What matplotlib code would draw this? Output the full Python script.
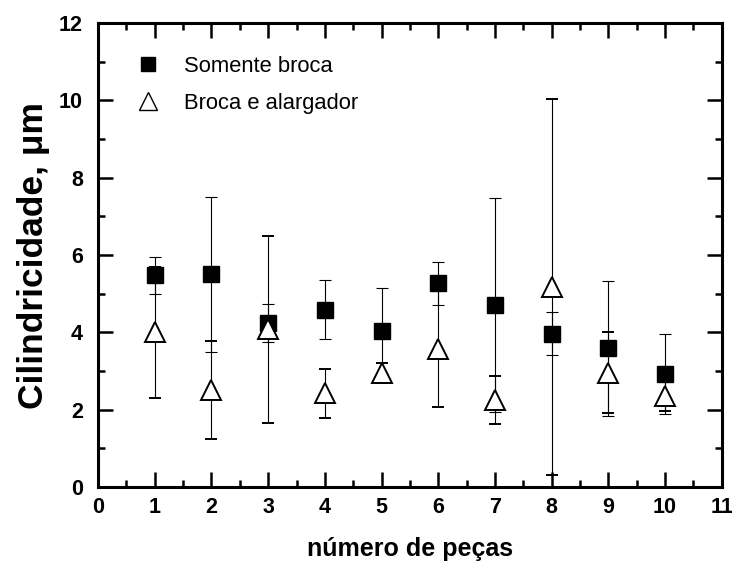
import matplotlib.pyplot as plt
import numpy as np
from matplotlib.ticker import MultipleLocator
from matplotlib.lines import Line2D

plt.rcParams['font.family'] = ['Liberation Sans', 'DejaVu Sans']

pecas = [1, 2, 3, 4, 5, 6, 7, 8, 9, 10]
somente_broca = [5.48, 5.50, 4.25, 4.59, 4.04, 5.27, 4.71, 3.97, 3.59, 2.92]
somente_broca_err = [0.48, 2.0, 0.49, 0.76, 1.12, 0.56, 2.77, 0.56, 1.75, 1.03]
broca_alargador = [4.0, 2.52, 4.08, 2.42, 2.95, 3.57, 2.25, 5.18, 2.96, 2.36]
broca_alargador_err = [1.7, 1.27, 2.42, 0.63, 0.25, 1.5, 0.62, 4.87, 1.04, 0.4]

fig = plt.figure(figsize=(7.32, 5.65), dpi=100)
ax = fig.add_axes([0.134, 0.138, 0.852, 0.821])

ax.errorbar(pecas, somente_broca, yerr=somente_broca_err, fmt='s', color='black',
            markersize=11, ecolor='black', elinewidth=0.8, capsize=4, capthick=0.8,
            zorder=3)
ax.errorbar(pecas, broca_alargador, yerr=broca_alargador_err, fmt='^', color='black',
            markerfacecolor='white', markeredgewidth=1.4, markersize=14,
            ecolor='black', elinewidth=0.8, capsize=4, capthick=0.8,
            zorder=4)

ax.set_xlim(0, 11)
ax.set_ylim(0, 12)
ax.xaxis.set_major_locator(MultipleLocator(1))
ax.xaxis.set_minor_locator(MultipleLocator(0.5))
ax.yaxis.set_major_locator(MultipleLocator(2))
ax.yaxis.set_minor_locator(MultipleLocator(1))
ax.tick_params(which='both', direction='in', top=True, right=True, width=1.8)
ax.tick_params(which='major', length=10.5)
ax.tick_params(which='minor', length=5)
ax.tick_params(axis='x', which='major', pad=7)
ax.tick_params(axis='y', which='major', pad=11)
ax.set_xticks(range(12))
ax.set_xticklabels([str(i) for i in range(12)], fontsize=15.5, fontweight='bold')
ax.set_yticks(range(0, 13, 2))
ax.set_yticklabels([str(i) for i in range(0, 13, 2)], fontsize=15.5, fontweight='bold')
for s in ax.spines.values():
    s.set_linewidth(2.2)

ax.set_xlabel('número de peças', fontsize=18, fontweight='bold', labelpad=14)
ax.set_ylabel('Cilindricidade, μm', fontsize=25.5, fontweight='bold', labelpad=6)

handles = [
    Line2D([], [], linestyle='none', marker='s', color='black', markersize=10),
    Line2D([], [], linestyle='none', marker='^', color='black', markerfacecolor='white',
           markeredgewidth=1.0, markersize=12.5),
]
ax.legend(handles, ['Somente broca', 'Broca e alargador'], loc='upper left',
          frameon=False, fontsize=15.8, handletextpad=0.67, labelspacing=0.72,
          bbox_to_anchor=(0.03, 0.948), borderaxespad=0)

fig.savefig('out.png', dpi=100)
